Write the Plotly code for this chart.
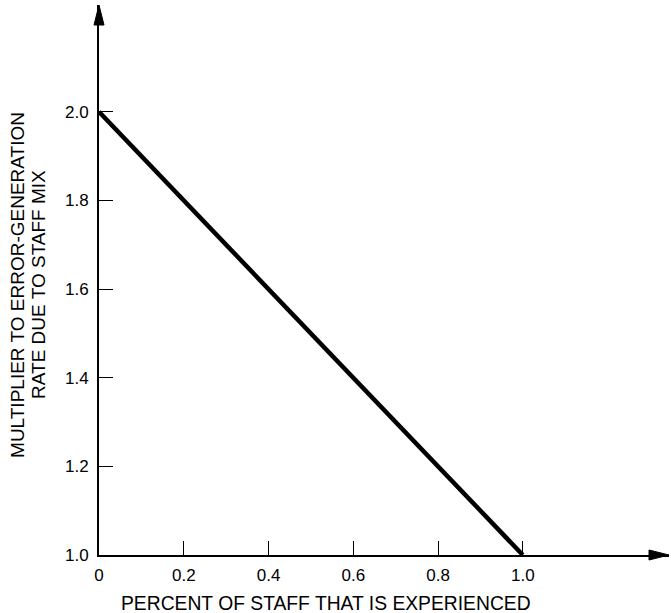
import plotly.graph_objects as go

# Data
staff_experienced = [0.0, 1.0]
error_multiplier = [2.0, 1.0]
x_ticks = [0, 0.2, 0.4, 0.6, 0.8, 1.0]
x_tick_labels = ["0", "0.2", "0.4", "0.6", "0.8", "1.0"]
y_ticks = [1.0, 1.2, 1.4, 1.6, 1.8, 2.0]
y_tick_labels = ["1.0", "1.2", "1.4", "1.6", "1.8", "2.0"]
x_title = "PERCENT OF STAFF THAT IS EXPERIENCED"
y_title_lines = ["MULTIPLIER TO ERROR-GENERATION", "RATE DUE TO STAFF MIX"]

X_MAX = 1.345
Y_MIN, Y_MAX = 1.0, 2.241

FONT = "Liberation Sans, Arial, Helvetica, sans-serif"

fig = go.Figure()
fig.add_trace(go.Scatter(
    x=staff_experienced, y=error_multiplier, mode="lines",
    line=dict(color="black", width=4.5), showlegend=False, hoverinfo="skip",
))

axis_common = dict(
    showgrid=False, zeroline=False, showline=True, linecolor="black", linewidth=2,
    ticks="inside", ticklen=14, tickwidth=1.2, tickcolor="black",
    tickfont=dict(family=FONT, size=17, color="black"),
)
fig.update_xaxes(range=[0, X_MAX], tickvals=x_ticks, ticktext=x_tick_labels,
                 ticklabelstandoff=4, **axis_common)
fig.update_yaxes(range=[Y_MIN, Y_MAX], tickvals=y_ticks, ticktext=y_tick_labels,
                 ticklabelstandoff=5, **axis_common)

# Arrowheads at axis ends (paper refs so they are not clipped)
fig.add_shape(type="path", xref="paper", yref="paper", xsizemode="pixel", ysizemode="pixel",
              xanchor=1, yanchor=0, path="M 0,0 L -20,5 L -20,-5 Z",
              fillcolor="black", line=dict(color="black", width=1), layer="above")
fig.add_shape(type="path", xref="paper", yref="paper", xsizemode="pixel", ysizemode="pixel",
              xanchor=0, yanchor=1, path="M 0,0 L -5,-20 L 5,-20 Z",
              fillcolor="black", line=dict(color="black", width=1), layer="above")

fig.add_annotation(text=x_title, xref="paper", yref="paper", x=0.398, y=0,
                   xanchor="center", yanchor="middle", yshift=-48, showarrow=False,
                   font=dict(family=FONT, size=19.3, color="black"))
for line_text, shift in zip(y_title_lines, [-81, -60]):
    fig.add_annotation(text=line_text, xref="paper", yref="paper", x=0, y=0.491,
                       xanchor="center", yanchor="middle", xshift=shift, textangle=-90,
                       showarrow=False, font=dict(family=FONT, size=19, color="black"))

fig.update_layout(
    width=671, height=613,
    margin=dict(l=99, r=2, t=5, b=58),
    paper_bgcolor="white", plot_bgcolor="white",
)

fig.write_html("out.html", config={"displayModeBar": False},
               post_script="document.body.style.margin='0px';")
